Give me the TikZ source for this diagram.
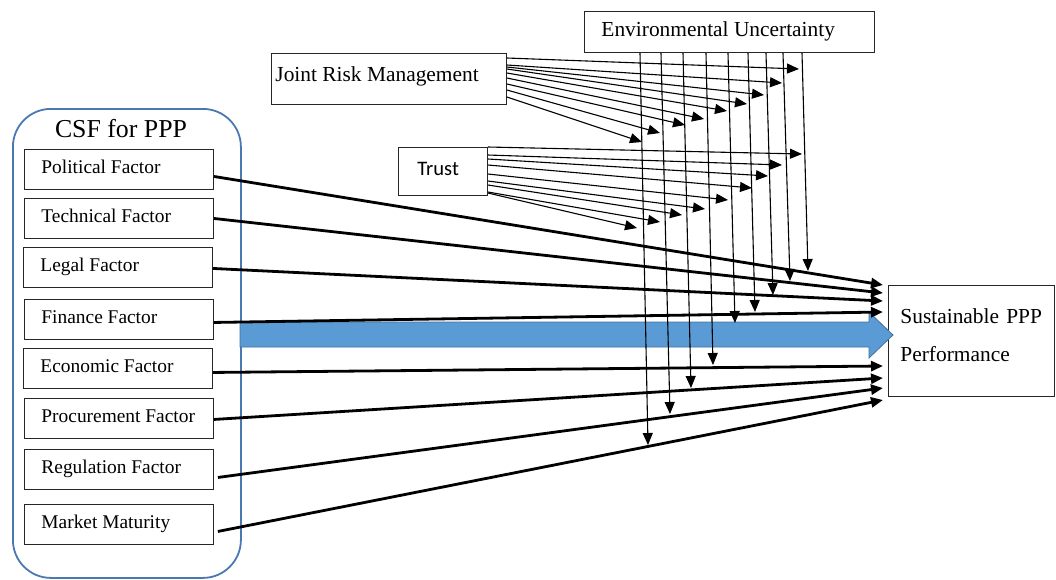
\documentclass[tikz,border=0pt]{standalone}
\usepackage{fontspec}
\setmainfont{Liberation Serif}
\newfontfamily\trustfont{Carlito}
\usetikzlibrary{arrows.meta,calc}
\newcommand\facfont{\fontsize{19.4}{23}\selectfont}
\newcommand\bigfont{\fontsize{21.4}{38}\selectfont}
\newcommand\csffont{\fontsize{25.8}{30}\selectfont}
\newcommand\trfont{\trustfont\fontsize{20.6}{24}\selectfont}
\newcommand\leftbox[2]{\makebox[#1][l]{#2}}
\definecolor{csfblue}{HTML}{4A78B0}
\definecolor{arrfill}{HTML}{5B9BD5}
\definecolor{arrdraw}{HTML}{41719C}
\begin{document}
\begin{tikzpicture}[x=1pt,y=-1pt,
  box/.style={draw=black!85,line width=0.9pt,anchor=north west,inner ysep=0pt},
  fac/.style={box,minimum width=189pt,minimum height=40pt,inner xsep=17pt,text height=13pt,text depth=4pt,font=\facfont},
  thickarr/.style={line width=2.8pt,-{Triangle[length=12pt,width=10pt]}},
  thinarr/.style={line width=1.1pt,-{Triangle[length=12pt,width=10pt]}}]
\useasboundingbox (0,0) rectangle (1056,579);

% CSF container
\node[draw=csfblue,line width=1.8pt,rounded corners=38pt,anchor=north west,minimum width=228pt,minimum height=469pt,inner sep=0pt] (csf) at (12,108) {};
\node[anchor=base,font=\csffont,inner sep=0pt] (csft) at (121,137) {CSF for PPP};

% factor boxes
\node[fac] (pf)  at (24,149) {\leftbox{155pt}{Political Factor}};
\node[fac] (tf)  at (24,198) {\leftbox{155pt}{Technical Factor}};
\node[fac] (lf)  at (23,247) {\leftbox{155pt}{Legal Factor}};
\node[fac] (ff)  at (24,299) {\leftbox{155pt}{Finance Factor}};
\node[fac] (ef)  at (23,348) {\leftbox{155pt}{Economic Factor}};
\node[fac] (prf) at (24,398) {\leftbox{155pt}{Procurement Factor}};
\node[fac] (gf)  at (24,449) {\leftbox{155pt}{Regulation Factor}};
\node[fac] (mf)  at (24,504) {\leftbox{155pt}{Market Maturity}};

% other boxes
\node[box,minimum width=290pt,minimum height=41.5pt,inner xsep=17pt,text height=14.5pt,text depth=5pt,font=\bigfont] (eu) at (584,10.7) {\leftbox{256pt}{Environmental Uncertainty}};
\node[box,minimum width=235pt,minimum height=51pt,inner xsep=4pt,text height=14.5pt,text depth=9.5pt,font=\bigfont] (jrm) at (271,53) {\leftbox{227pt}{Joint Risk Management}};
\node[box,minimum width=89pt,minimum height=48pt,inner xsep=19pt,text height=13pt,text depth=5pt,font=\trfont] (tr) at (398,147) {\leftbox{51pt}{Trust}};
\node[box,align=left,minimum width=166pt,minimum height=111pt,inner xsep=12pt,text width=142pt,text height=14.6pt,text depth=50pt,font=\bigfont] (sp) at (888,285) {Sustainable PPP\\Performance};

% blue arrow
\coordinate (ba) at (240,334.5);
\coordinate (bt) at (893,335);
\fill[arrfill,draw=arrdraw,line width=0.8pt]
  ($(ba)+(0,-12.5)$) -- ($(bt)+(-24,-13)$) -- ($(bt)+(-24,-23)$) -- (bt)
  -- ($(bt)+(-24,23)$) -- ($(bt)+(-24,12)$) -- ($(ba)+(0,12.5)$) -- cycle;

% factor arrows
\coordinate (s1) at (883,285);
\coordinate (s2) at (883,293);
\coordinate (s3) at (883,301);
\coordinate (s4) at (883,312);
\coordinate (s5) at (883,366);
\coordinate (s6) at (883,378);
\coordinate (s7) at (883,388);
\coordinate (s8) at (883,400);
\draw[thickarr] ($(pf.east)+(0,7)$) -- (s1);
\draw[thickarr] (tf.east) -- (s2);
\draw[thickarr] ($(lf.east)+(0,1)$) -- (s3);
\draw[thickarr] ($(ff.east)+(0,3)$) -- (s4);
\draw[thickarr] ($(ef.east)+(0,4)$) -- (s5);
\draw[thickarr] ($(prf.east)+(0,1)$) -- (s6);
\draw[thickarr] ($(gf.east)+(4,8)$) -- (s7);
\draw[thickarr] ($(mf.east)+(4,7)$) -- (s8);

% vertical moderation arrows from Environmental Uncertainty
\foreach \xa/\xb/\yb [count=\i] in {802/808/271, 783/790/281, 766/773/295, 748/755/312, 728/735/323, 706/713/365, 683/691/388, 661/670/414, 640/648/445}{
  \coordinate (v\i) at (\xb,\yb);
  \draw[thinarr] (eu.south west -| \xa,0) -- (v\i);
}

% Joint Risk Management arrows
\foreach \dy/\x/\y [count=\i] in {5/799/69, 12/782/83, 14/764/95, 16/747/104, 20/727/111, 25/704/119, 31/685/125, 37/660/133, 44/642/142}{
  \coordinate (j\i) at (\x,\y);
  \draw[thinarr] ($(jrm.north east)+(0,\dy)$) -- (j\i);
}

% Trust arrows
\foreach \dy/\x/\y [count=\i] in {0/802/154, 8/782/165, 12/768/176, 18/752/188, 27/728/200, 34/705/209, 38/682/215, 45/660/222, 46/637/228}{
  \coordinate (t\i) at (\x,\y);
  \draw[thinarr] ($(tr.north east)+(0,\dy)$) -- (t\i);
}
\end{tikzpicture}
\end{document}
